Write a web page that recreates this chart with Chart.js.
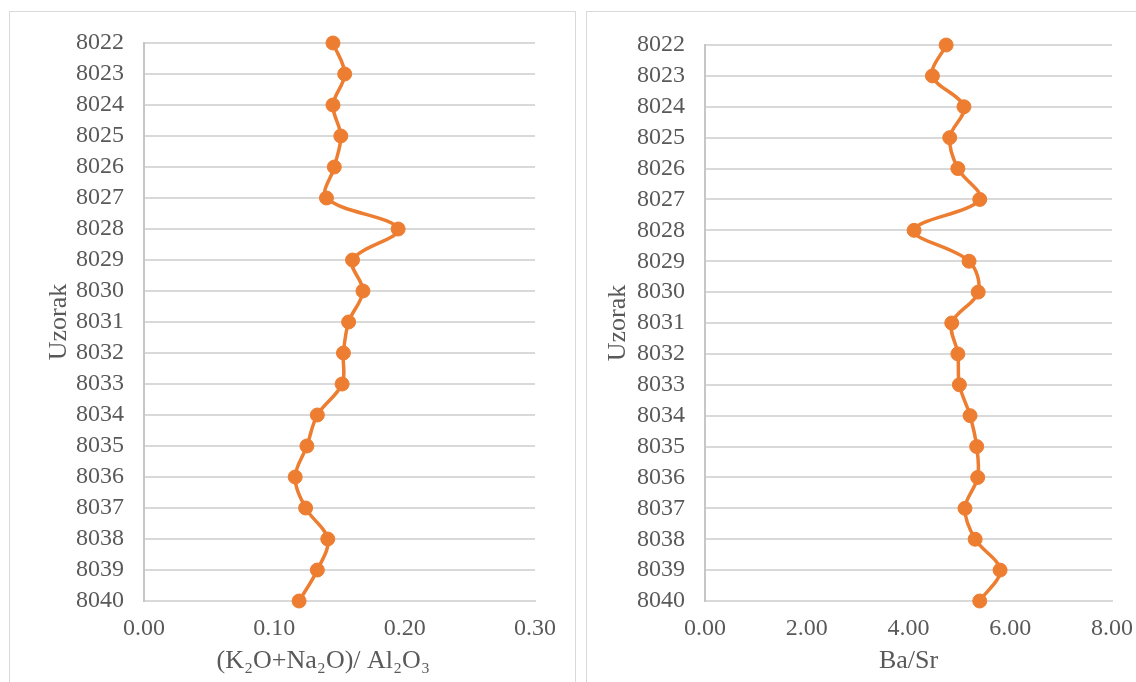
<!DOCTYPE html>
<html>
<head>
<meta charset="utf-8">
<script src="https://cdn.jsdelivr.net/npm/chart.js@4"></script>
<style>
  html, body { margin: 0; padding: 0; background: #fff; }
  body { width: 1136px; height: 682px; position: relative; overflow: hidden; }
  .panel { position: absolute; border: 1px solid #d9d9d9; box-sizing: border-box; }
  canvas { position: absolute; top: 0; }
</style>
</head>
<body>
<div class="panel" style="left:9px;top:11px;width:567px;height:700px;"></div>
<div class="panel" style="left:586px;top:11px;width:600px;height:700px;"></div>
<canvas id="chart-left" width="575" height="682" style="left:0px;"></canvas>
<canvas id="chart-right" width="600" height="682" style="left:586px;"></canvas>
<script>
const samples = ['8022', '8023', '8024', '8025', '8026', '8027', '8028', '8029', '8030', '8031',
  '8032', '8033', '8034', '8035', '8036', '8037', '8038', '8039', '8040'];

// (K2O+Na2O)/Al2O3
const alkaliRatio = [0.145, 0.154, 0.145, 0.151, 0.146, 0.140, 0.195, 0.160, 0.168, 0.157,
  0.153, 0.152, 0.133, 0.125, 0.116, 0.124, 0.141, 0.133, 0.119];

// Ba/Sr
const baSr = [4.74, 4.47, 5.09, 4.81, 4.97, 5.40, 4.11, 5.19, 5.37, 4.85,
  4.97, 5.00, 5.21, 5.34, 5.36, 5.11, 5.31, 5.80, 5.40];

const leftTicks = [0, 0.1, 0.2, 0.3];
const rightTicks = [0, 2, 4, 6, 8];

const ORANGE = '#ED7D31';
const TEXT = '#595959';
const FONT = '"Liberation Serif", "Times New Roman", serif';

function makeChart(id, values, tickVals, xTitle, opts) {
  return new Chart(document.getElementById(id), {
    type: 'line',
    data: {
      labels: samples,
      datasets: [{
        data: values,
        borderColor: ORANGE,
        backgroundColor: ORANGE,
        borderWidth: 3.5,
        pointRadius: 7,
        pointBackgroundColor: ORANGE,
        pointBorderColor: ORANGE,
        pointBorderWidth: 1,
        tension: 0.35,
        fill: false
      }]
    },
    options: {
      indexAxis: 'y',
      responsive: false,
      animation: false,
      events: [],
      layout: { padding: { top: opts.padTop, right: opts.padRight, left: 0, bottom: 0 } },
      plugins: { legend: { display: false }, tooltip: { enabled: false } },
      scales: {
        x: {
          type: 'linear',
          min: tickVals[0],
          max: tickVals[tickVals.length - 1],
          afterBuildTicks: s => { s.ticks = tickVals.map(v => ({ value: v })); },
          afterFit: s => { s.height = 81; },
          grid: { display: false, drawTicks: false },
          border: { display: true, color: '#d9d9d9', width: 2 },
          ticks: {
            color: TEXT,
            font: { family: FONT, size: 24 },
            padding: 13,
            callback: v => v.toFixed(2)
          },
          title: {
            display: true,
            text: xTitle,
            color: TEXT,
            font: { family: FONT, size: 26 },
            padding: { top: 0, bottom: 5 }
          }
        },
        y: {
          type: 'category',
          offset: false,
          afterFit: s => { s.width = opts.yWidth; },
          grid: { color: '#d9d9d9', lineWidth: 2, drawTicks: false },
          border: { display: true, color: '#c6c6c6', width: 2 },
          ticks: {
            color: TEXT,
            font: { family: FONT, size: 24 },
            padding: 20,
            autoSkip: false
          },
          title: {
            display: true,
            text: 'Uzorak',
            color: TEXT,
            font: { family: FONT, size: 26 },
            padding: { top: opts.titlePad, bottom: 0 }
          }
        }
      }
    }
  });
}

makeChart('chart-left', alkaliRatio, leftTicks, '(K\u2082O+Na\u2082O)/ Al\u2082O\u2083\u00a0\u00a0\u00a0\u00a0\u00a0',
  { padTop: 43, padRight: 40, yWidth: 144, titlePad: 44 });
makeChart('chart-right', baSr, rightTicks, 'Ba/Sr',
  { padTop: 45, padRight: 74, yWidth: 119, titlePad: 17 });
</script>
</body>
</html>
